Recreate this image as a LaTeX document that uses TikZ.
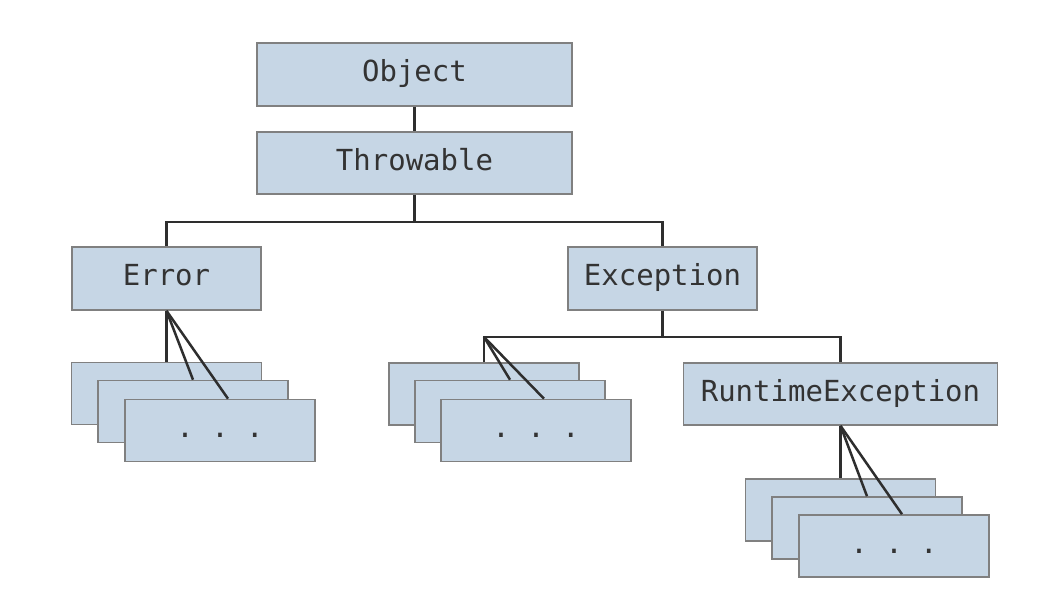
\documentclass[tikz,border=0pt]{standalone}
\usepackage{fontspec}
\setmonofont{DejaVu Sans Mono}
\definecolor{boxfill}{HTML}{C6D6E5}
\definecolor{boxline}{HTML}{808080}
\definecolor{wire}{HTML}{2E2E2E}
\definecolor{txt}{HTML}{333333}
\begin{document}
\begin{tikzpicture}[x=1pt,y=-1pt,
  cls/.style={draw=boxline, line width=1.6pt, fill=boxfill, inner sep=0pt,
    font=\ttfamily\fontsize{29}{32}\selectfont, text=txt,
    text height=20pt, text depth=6pt},
  stackbox/.style={cls, minimum width=190pt, minimum height=62pt},
  wirestyle/.style={draw=wire, line width=2.5pt, line cap=butt, line join=miter}]
\useasboundingbox[fill=white] (0,0) rectangle (1058,614);

% top
\node[cls, minimum width=315pt, minimum height=63pt] (obj) at (414.5,74.5) {Object};
\node[cls, minimum width=315pt, minimum height=62pt] (thr) at (414.5,163) {Throwable};
\node[cls, minimum width=189pt, minimum height=63pt] (err) at (166.5,278.5) {Error};
\node[cls, minimum width=189pt, minimum height=63pt] (exc) at (662.5,278.5) {Exception};
\node[cls, minimum width=314pt, minimum height=62pt] (rte) at (840.5,394) {RuntimeException};

\coordinate (j1) at (414.5,222);
\coordinate (j2) at (662.5,337);

% Error stack
\node[stackbox] (errA) at (166.5,393.5) {};
\node[stackbox] (errB) at (193,411.5) {};
\node[stackbox] (errC) at (220,430.5) {. . .};
% Exception stack
\node[stackbox] (excA) at (484,394) {};
\node[stackbox] (excB) at (510,411.5) {};
\node[stackbox] (excC) at (536,430.5) {. . .};
% RuntimeException stack
\node[stackbox] (rteA) at (840.5,510) {};
\node[stackbox] (rteB) at (867,528) {};
\node[stackbox] (rteC) at (894,546) {. . .};

% connectors
\draw[wirestyle] (obj.south) -- (thr.north);
\draw[wirestyle] (thr.south) -- (j1);
\draw[wirestyle] (err.north) -- (err.north |- j1) -- (exc.north |- j1) -- (exc.north);
\draw[wirestyle] (exc.south) -- (j2);
\draw[wirestyle] (excA.north) -- (excA.north |- j2) -- (rte.north |- j2) -- (rte.north);

\draw[wirestyle] (err.south) -- (errA.north);
\draw[wirestyle] (err.south) -- (errB.north);
\draw[wirestyle] (err.south) -- ([xshift=8pt]errC.north);

\draw[wirestyle] (excA.north |- j2) -- (excB.north);
\draw[wirestyle] (excA.north |- j2) -- ([xshift=8pt]excC.north);

\draw[wirestyle] (rte.south) -- (rteA.north);
\draw[wirestyle] (rte.south) -- (rteB.north);
\draw[wirestyle] (rte.south) -- ([xshift=8pt]rteC.north);
\end{tikzpicture}
\end{document}
